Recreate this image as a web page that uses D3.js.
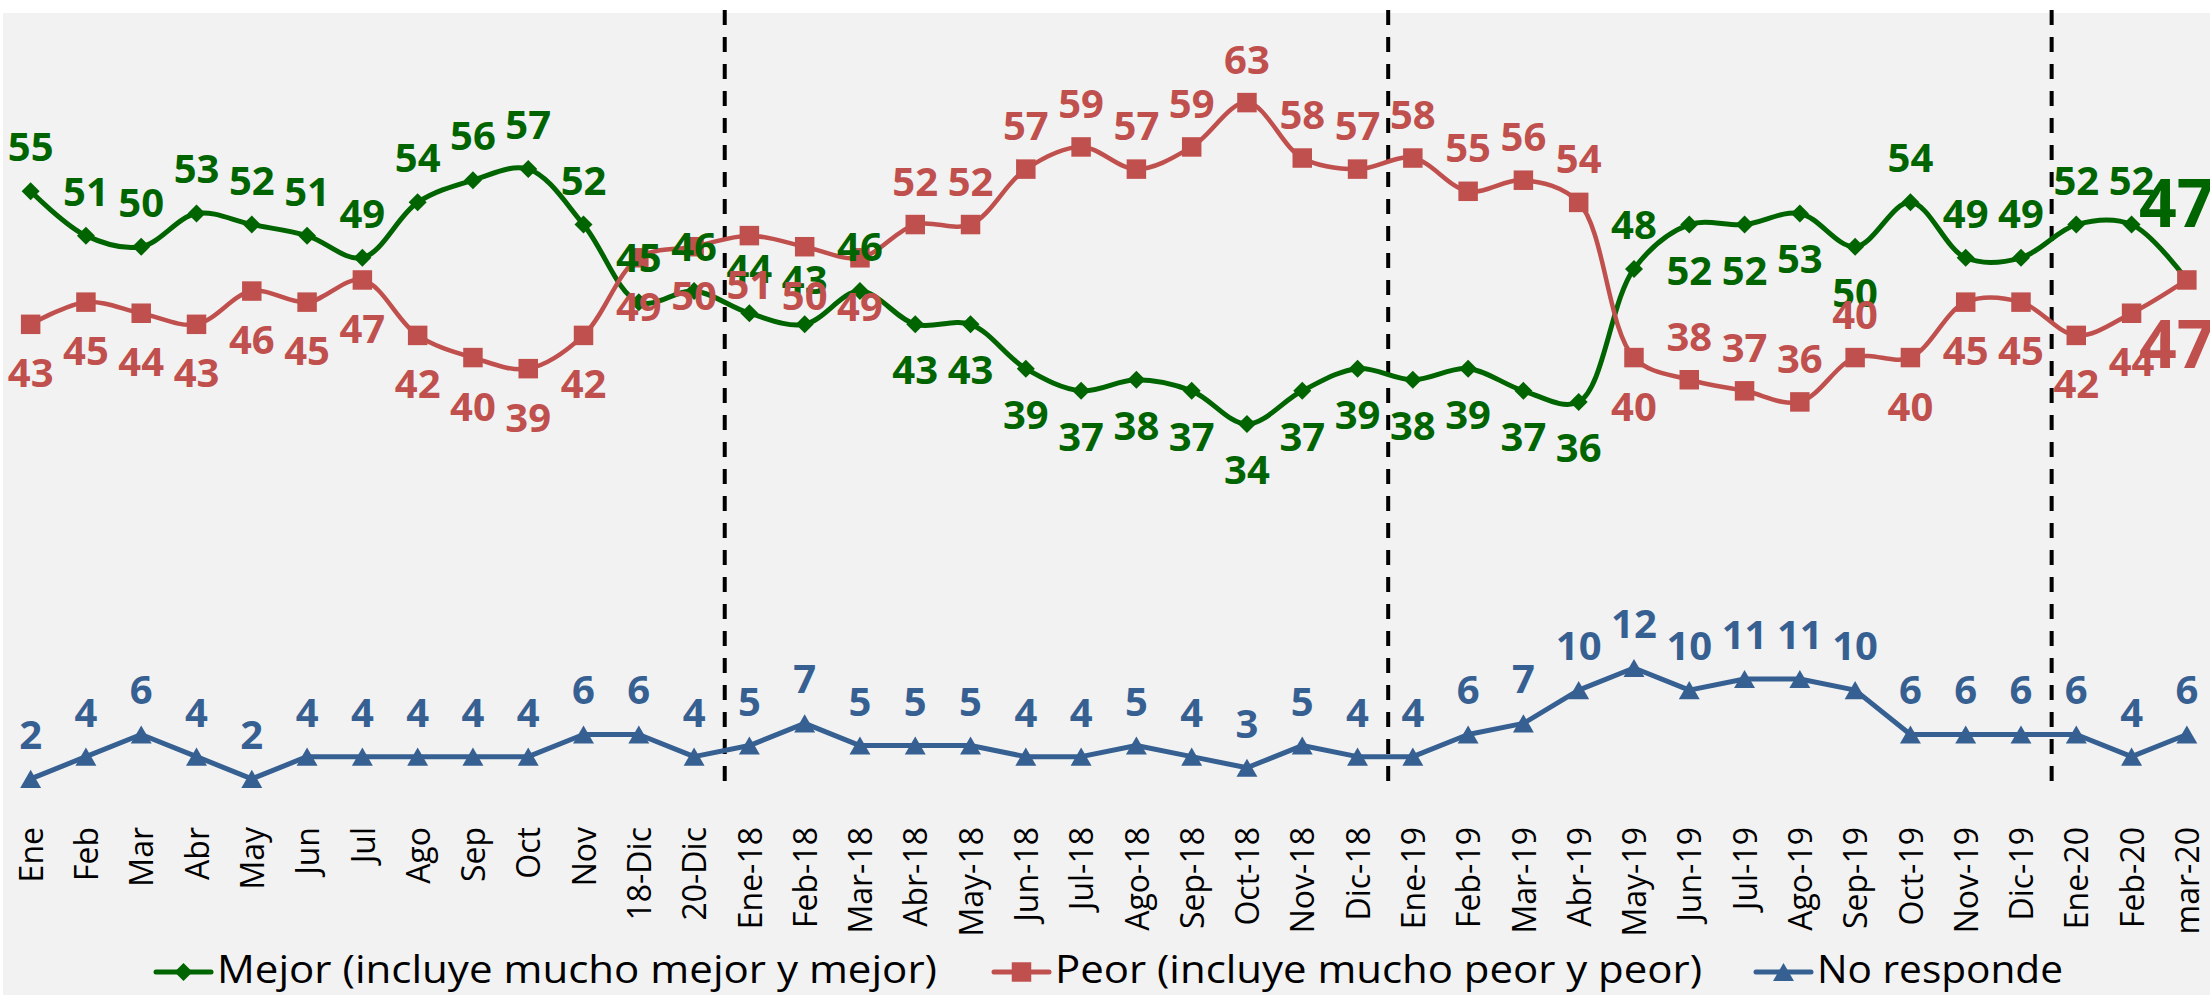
<!DOCTYPE html>
<html>
<head>
<meta charset="utf-8">
<script src="https://cdn.jsdelivr.net/npm/d3@7"></script>
<style>
  body { margin: 0; background: #fff; }
  svg { display: block; }
</style>
</head>
<body>
<svg id="chart" width="2210" height="995"></svg>
<script>
const categories = ['Ene', 'Feb', 'Mar', 'Abr', 'May', 'Jun', 'Jul', 'Ago', 'Sep', 'Oct', 'Nov',
   '18-Dic', '20-Dic', 'Ene-18', 'Feb-18', 'Mar-18', 'Abr-18', 'May-18', 'Jun-18', 'Jul-18',
   'Ago-18', 'Sep-18', 'Oct-18', 'Nov-18', 'Dic-18', 'Ene-19', 'Feb-19', 'Mar-19', 'Abr-19',
   'May-19', 'Jun-19', 'Jul-19', 'Ago-19', 'Sep-19', 'Oct-19', 'Nov-19', 'Dic-19', 'Ene-20',
   'Feb-20', 'mar-20'];
const mejor = [55, 51, 50, 53, 52, 51, 49, 54, 56, 57, 52, 45, 46, 44, 43, 46, 43, 43, 39, 37,
   38, 37, 34, 37, 39, 38, 39, 37, 36, 48, 52, 52, 53, 50, 54, 49, 49, 52, 52, 47];
const peor = [43, 45, 44, 43, 46, 45, 47, 42, 40, 39, 42, 49, 50, 51, 50, 49, 52, 52, 57, 59,
   57, 59, 63, 58, 57, 58, 55, 56, 54, 40, 38, 37, 36, 40, 40, 45, 45, 42, 44, 47];
const noResponde = [2, 4, 6, 4, 2, 4, 4, 4, 4, 4, 6, 6, 4, 5, 7, 5, 5, 5, 4, 4,
   5, 4, 3, 5, 4, 4, 6, 7, 10, 12, 10, 11, 11, 10, 6, 6, 6, 6, 4, 6];
const seriesNames = ['Mejor (incluye mucho mejor y mejor)', 'Peor (incluye mucho peor y peor)', 'No responde'];
// a dashed separator is drawn before each of these months
const yearStarts = ['Ene-18', 'Ene-19', 'Ene-20'];

const width = 2210;
const height = 995;
const labelFont = '"Open Sans", "DejaVu Sans", sans-serif';

const svg = d3.select('#chart');

svg.append('rect')
   .attr('x', 3)
   .attr('y', 13)
   .attr('width', width - 3)
   .attr('height', height - 13)
   .attr('fill', '#f2f2f2');

const x = d3.scaleBand()
   .domain(categories)
   .range([3, 2214.5]);
const y = d3.scaleLinear()
   .domain([0, 70])
   .range([801, 25]);
const cx = (i) => x(categories[i]) + x.bandwidth() / 2;

// label side flips while Peor sits above Mejor
const flipped = (i) => (i >= 16 && i <= 28) || (i >= 30 && i <= 33);
const lastIndex = categories.length - 1;

const series = [
   {
      name: seriesNames[0], values: mejor, color: '#006400', width: 5, smooth: true,
      symbol: d3.symbolSquare, size: 162, rotate: 45, shift: 0,
      labelDy: (i) => {
         if (i === lastIndex) return -53;
         return flipped(i) ? 60 : -30;
      }
   },
   {
      name: seriesNames[1], values: peor, color: '#c0504d', width: 4.5, smooth: true,
      symbol: d3.symbolSquare, size: 380, rotate: 0, shift: 0,
      labelDy: (i) => {
         if (i === lastIndex) return 88;
         return flipped(i) ? -29 : 63;
      }
   },
   {
      name: seriesNames[2], values: noResponde, color: '#376092', width: 5, smooth: false,
      symbol: d3.symbolTriangle, size: 190, rotate: 0, shift: 3,
      labelDy: () => -30
   }
];

// dashed year separators
svg.selectAll('.separator')
   .data(yearStarts)
   .enter().append('line')
   .attr('class', 'separator')
   .attr('x1', (d) => x(d) + 3)
   .attr('x2', (d) => x(d) + 3)
   .attr('y1', 10)
   .attr('y2', 781)
   .attr('stroke', '#000')
   .attr('stroke-width', 4)
   .attr('stroke-dasharray', '15 12');

// x axis labels
const xAxis = d3.axisBottom(x).tickSize(0);
const axisG = svg.append('g')
   .attr('transform', 'translate(0, 827)')
   .call(xAxis);
axisG.select('.domain').remove();
axisG.selectAll('text')
   .attr('transform', 'rotate(-90)')
   .attr('x', 0)
   .attr('y', 0)
   .attr('dy', '0.38em')
   .style('text-anchor', 'end')
   .style('font-family', labelFont)
   .style('font-size', '32px')
   .style('fill', '#000');

// lines and markers
series.forEach((s) => {
   const line = d3.line()
      .x((d, i) => cx(i))
      .y((d) => y(d))
      .curve(s.smooth ? d3.curveCatmullRom.alpha(0.5) : d3.curveLinear);

   svg.append('path')
      .datum(s.values)
      .attr('fill', 'none')
      .attr('stroke', s.color)
      .attr('stroke-width', s.width)
      .attr('stroke-linejoin', 'round')
      .attr('stroke-linecap', 'round')
      .attr('d', line);

   svg.append('g').selectAll('path')
      .data(s.values)
      .enter().append('path')
      .attr('d', d3.symbol().type(s.symbol).size(s.size))
      .attr('transform', (d, i) => `translate(${cx(i)}, ${y(d) + s.shift}) rotate(${s.rotate})`)
      .attr('fill', s.color);
});

// data labels on top of every line
series.forEach((s) => {
   svg.append('g').selectAll('text')
      .data(s.values)
      .enter().append('text')
      .attr('x', (d, i) => (i === lastIndex && s.smooth ? cx(i) - 10 : cx(i)))
      .attr('y', (d, i) => y(d) + s.labelDy(i))
      .attr('text-anchor', 'middle')
      .style('font-family', labelFont)
      .style('font-weight', 700)
      .style('font-size', (d, i) => (i === lastIndex && s.smooth ? '66px' : '40px'))
      .style('fill', s.color)
      .text((d) => d);
});

// legend
const legendItems = [
   { start: 156, textWidth: 720 },
   { start: 994, textWidth: 647 },
   { start: 1756, textWidth: 246 }
];
const legendY = 972;
const legend = svg.selectAll('.legend')
   .data(series)
   .enter().append('g')
   .attr('class', 'legend')
   .attr('transform', (d, i) => `translate(${legendItems[i].start}, ${legendY})`);

legend.append('line')
   .attr('x1', 0)
   .attr('x2', 55)
   .attr('stroke', (d) => d.color)
   .attr('stroke-width', 5)
   .attr('stroke-linecap', 'round');

legend.append('path')
   .attr('d', (d) => d3.symbol().type(d.symbol).size(d.size)())
   .attr('transform', (d) => `translate(27.5, ${d.shift}) rotate(${d.rotate})`)
   .attr('fill', (d) => d.color);

legend.append('text')
   .attr('x', 61)
   .attr('y', 11)
   .attr('textLength', (d, i) => legendItems[i].textWidth)
   .attr('lengthAdjust', 'spacingAndGlyphs')
   .style('font-family', labelFont)
   .style('font-size', '39px')
   .style('fill', '#000')
   .text((d) => d.name);
</script>
</body>
</html>
